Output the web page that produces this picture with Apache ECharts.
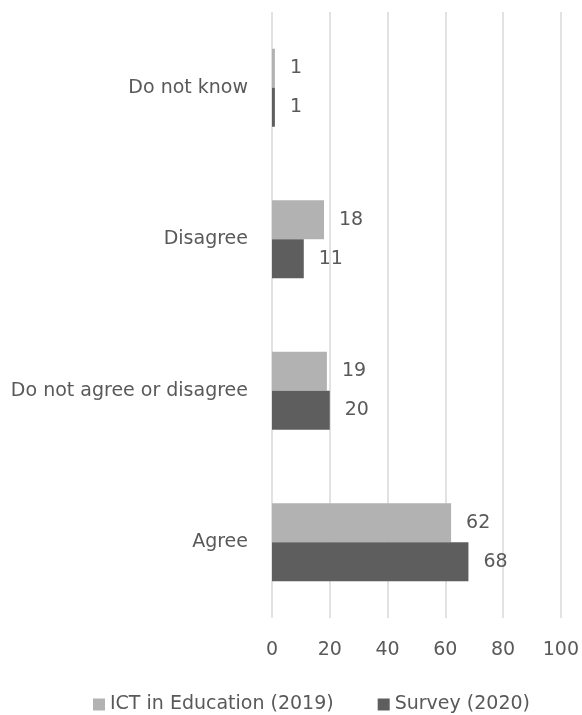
<!DOCTYPE html>
<html><head><meta charset="utf-8">
<script src="https://cdn.jsdelivr.net/npm/echarts@6/dist/echarts.min.js"></script>
<style>html,body{margin:0;padding:0;background:#fff}#c{width:582px;height:715px}</style>
</head><body><div id="c"></div>
<script>
const categories = ["Agree", "Do not agree or disagree", "Disagree", "Do not know"];
const ict2019 = [62, 19, 18, 1];
const survey2020 = [68, 20, 11, 1];
const xTicks = [0, 20, 40, 60, 80, 100];

const font = "'DejaVu Sans', sans-serif";
const txt = '#595959';
const fs = 19;
const chart = echarts.init(document.getElementById('c'), null, {renderer: 'canvas'});
chart.setOption({
  animation: false,
  textStyle: {fontFamily: font},
  grid: {left: 272, right: 19, top: 12, bottom: 97, containLabel: false},
  legend: {
    top: 690, left: 88, itemWidth: 12, itemHeight: 12, itemGap: 44, icon: 'rect',
    textStyle: {color: txt, fontSize: fs, fontFamily: font},
    data: ['ICT in Education (2019)', 'Survey (2020)']
  },
  xAxis: {
    type: 'value', min: xTicks[0], max: xTicks[xTicks.length-1], interval: 20,
    axisLine: {show: false}, axisTick: {show: false},
    splitLine: {lineStyle: {color: '#d9d9d9', width: 1.5}},
    axisLabel: {color: txt, fontSize: fs, margin: 23, fontFamily: font}
  },
  yAxis: {
    type: 'category', data: categories,
    axisLine: {show: false}, axisTick: {show: false},
    axisLabel: {color: txt, fontSize: fs, margin: 24, fontFamily: font}
  },
  series: [
    {name: 'ICT in Education (2019)', type: 'bar', data: ict2019, barWidth: 39, barGap: '0%',
     itemStyle: {color: '#b2b2b2'},
     label: {show: true, position: 'right', distance: 15, color: txt, fontSize: fs, fontFamily: font}},
    {name: 'Survey (2020)', type: 'bar', data: survey2020, barWidth: 39, barGap: '0%',
     itemStyle: {color: '#5e5e5e'},
     label: {show: true, position: 'right', distance: 15, color: txt, fontSize: fs, fontFamily: font}}
  ]
});
</script></body></html>
